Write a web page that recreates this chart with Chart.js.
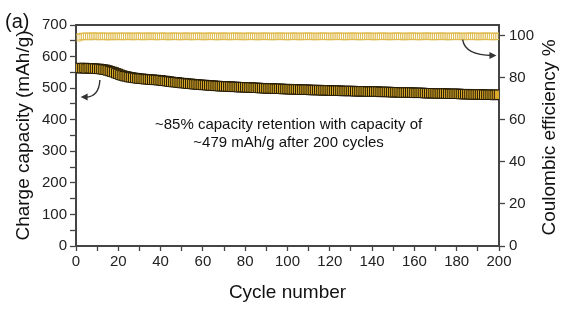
<!DOCTYPE html>
<html>
<head>
<meta charset="utf-8">
<script src="https://cdn.jsdelivr.net/npm/chart.js@4/dist/chart.umd.min.js"></script>
<style>
  html, body { margin: 0; padding: 0; background: #fff; }
  canvas { display: block; }
</style>
</head>
<body>
<canvas id="cycling" width="576" height="331"></canvas>
<script>
// cycle index
const cycles = [
  1,2,3,4,5,6,7,8,9,10,11,12,13,14,15,16,17,18,19,20,
  21,22,23,24,25,26,27,28,29,30,31,32,33,34,35,36,37,38,39,40,
  41,42,43,44,45,46,47,48,49,50,51,52,53,54,55,56,57,58,59,60,
  61,62,63,64,65,66,67,68,69,70,71,72,73,74,75,76,77,78,79,80,
  81,82,83,84,85,86,87,88,89,90,91,92,93,94,95,96,97,98,99,100,
  101,102,103,104,105,106,107,108,109,110,111,112,113,114,115,116,117,118,119,120,
  121,122,123,124,125,126,127,128,129,130,131,132,133,134,135,136,137,138,139,140,
  141,142,143,144,145,146,147,148,149,150,151,152,153,154,155,156,157,158,159,160,
  161,162,163,164,165,166,167,168,169,170,171,172,173,174,175,176,177,178,179,180,
  181,182,183,184,185,186,187,188,189,190,191,192,193,194,195,196,197,198,199,200
];

// charge capacity, mAh/g
const capacity = [
  563,564,563,564,562,563,563,562,562,561, 561,560,559,558,556,554,552,550,547,545,
  542,540,538,537,535,534,533,532,531,530, 530,529,528,528,527,527,526,526,525,525,
  523,523,522,521,520,519,519,518,517,516, 516,515,514,514,513,512,512,511,511,510,
  510,509,509,508,508,507,507,506,506,506, 505,505,505,504,504,504,503,503,503,503,
  502,502,502,501,501,501,500,500,500,499, 499,499,499,498,498,498,498,497,497,497,
  497,496,496,496,496,495,495,495,495,495, 494,494,494,494,494,493,493,493,493,493,
  492,492,492,492,492,491,491,491,491,491, 491,490,490,490,490,490,490,489,489,489,
  489,489,489,488,488,488,488,488,487,487, 487,487,487,486,486,486,486,486,486,485,
  485,485,485,485,484,484,484,484,484,484, 483,483,483,483,483,482,482,482,482,482,
  482,481,481,481,481,481,480,480,480,480, 480,480,479,479,479,479,479,478,479,479
];

// coulombic efficiency, %
const efficiency = [
  98.9,99.4,99.6,99.5,99.7,99.6,99.5,99.8,99.6,99.7, 99.5,99.6,99.7,99.6,99.4,99.6,99.7,99.5,99.6,99.6,
  99.7,99.5,99.6,99.6,99.7,99.6,99.5,99.6,99.7,99.6, 99.6,99.5,99.7,99.6,99.6,99.7,99.6,99.5,99.6,99.6,
  99.7,99.6,99.6,99.5,99.6,99.7,99.6,99.6,99.5,99.6, 99.6,99.7,99.6,99.6,99.5,99.6,99.7,99.6,99.6,99.6,
  99.5,99.6,99.7,99.6,99.6,99.6,99.5,99.6,99.7,99.6, 99.6,99.6,99.5,99.6,99.7,99.6,99.6,99.6,99.6,99.5,
  99.6,99.7,99.6,99.6,99.6,99.5,99.6,99.6,99.7,99.6, 99.6,99.6,99.5,99.6,99.6,99.7,99.6,99.6,99.6,99.5,
  99.6,99.6,99.7,99.6,99.6,99.5,99.6,99.6,99.6,99.7, 99.6,99.6,99.5,99.6,99.6,99.6,99.7,99.6,99.6,99.5,
  99.6,99.6,99.6,99.7,99.6,99.6,99.5,99.6,99.6,99.6, 99.7,99.6,99.6,99.5,99.6,99.6,99.6,99.7,99.6,99.6,
  99.5,99.6,99.6,99.6,99.7,99.6,99.6,99.5,99.6,99.6, 99.6,99.7,99.6,99.6,99.5,99.6,99.6,99.6,99.7,99.6,
  99.6,99.5,99.6,99.6,99.6,99.7,99.6,99.6,99.5,99.6, 99.6,99.6,99.7,99.6,99.6,99.5,99.6,99.6,99.6,99.7,
  99.6,99.6,99.5,99.6,99.6,99.6,99.7,99.6,99.6,99.5, 99.6,99.6,99.6,99.7,99.6,99.6,99.5,99.6,99.6,99.6
];

const xTicks = [0, 20, 40, 60, 80, 100, 120, 140, 160, 180, 200];
const capTicks = [0, 100, 200, 300, 400, 500, 600, 700];
const ceTicks = [0, 20, 40, 60, 80, 100];

const FONT = 'Arial, "Liberation Sans", sans-serif';
const AXIS = '#444';

const capPoints = cycles.map((c, i) => ({x: c, y: capacity[i]}));
const cePoints = cycles.map((c, i) => ({x: c, y: efficiency[i]}));

// text, arrows and right-hand title drawn on top of the chart
const decorations = {
    id: 'decorations',
    afterDatasetsDraw(chart) {
        const {ctx, chartArea, scales} = chart;
        const x = scales.x, y = scales.y, y1 = scales.y1;
        ctx.save();
        ctx.fillStyle = '#111';
        ctx.textAlign = 'center';
        ctx.textBaseline = 'middle';
        ctx.font = '15px ' + FONT;
        ctx.fillText('~85% capacity retention with capacity of', x.getPixelForValue(100.5), y.getPixelForValue(383));
        ctx.fillText('~479 mAh/g after 200 cycles', x.getPixelForValue(100.5), y.getPixelForValue(326));

        ctx.font = '20px ' + FONT;
        ctx.textAlign = 'left';
        ctx.fillText('(a)', 5, 22);

        // right axis title, reading bottom to top
        ctx.font = '19px ' + FONT;
        ctx.textAlign = 'center';
        ctx.translate(550, (chartArea.top + chartArea.bottom) / 2 + 2);
        ctx.rotate(-Math.PI / 2);
        ctx.fillText('Coulombic efficiency %', 0, 0);
        ctx.restore();

        const arrow = (sx, sy, cx, cy, ex, ey, ys, dir) => {
            const p0 = [x.getPixelForValue(sx), ys.getPixelForValue(sy)];
            const pc = [x.getPixelForValue(cx), ys.getPixelForValue(cy)];
            const p1 = [x.getPixelForValue(ex), ys.getPixelForValue(ey)];
            ctx.save();
            ctx.strokeStyle = '#333';
            ctx.fillStyle = '#333';
            ctx.lineWidth = 1.4;
            ctx.beginPath();
            ctx.moveTo(p0[0], p0[1]);
            ctx.quadraticCurveTo(pc[0], pc[1], p1[0] - dir * 4, p1[1]);
            ctx.stroke();
            ctx.beginPath();
            ctx.moveTo(p1[0], p1[1]);
            ctx.lineTo(p1[0] - dir * 7, p1[1] - 3.5);
            ctx.lineTo(p1[0] - dir * 7, p1[1] + 3.5);
            ctx.closePath();
            ctx.fill();
            ctx.restore();
        };
        arrow(11.3, 526, 10.8, 470, 2.2, 472, y, -1);
        arrow(182.8, 98, 184, 90.5, 198.8, 90.5, y1, 1);
    }
};

new Chart(document.getElementById('cycling'), {
    type: 'line',
    data: {
        datasets: [{
            label: 'Coulombic efficiency',
            data: cePoints,
            yAxisID: 'y1',
            showLine: false,
            pointStyle: 'rect',
            pointRadius: 4.6,
            pointBorderWidth: 1,
            pointBorderColor: 'rgba(222,184,72,0.75)',
            pointBackgroundColor: 'rgba(255,255,255,0)'
        }, {
            label: 'Charge capacity',
            data: capPoints,
            yAxisID: 'y',
            showLine: false,
            pointStyle: 'rect',
            pointRadius: 6.6,
            pointBorderWidth: 1,
            pointBorderColor: '#231a06',
            pointBackgroundColor: '#dcab2a'
        }]
    },
    options: {
        responsive: false,
        animation: false,
        events: [],
        layout: {padding: {left: 0, right: 0, top: 25, bottom: 23}},
        plugins: {legend: {display: false}, tooltip: {enabled: false}},
        scales: {
            x: {
                type: 'linear', min: 0, max: 200,
                afterBuildTicks: s => { s.ticks = []; for (let v = 0; v <= 200; v += 10) s.ticks.push({value: v}); },
                afterFit: s => { s.height = 62; },
                ticks: {
                    color: '#222', font: {family: FONT, size: 15}, padding: 2, maxRotation: 0, autoSkip: false,
                    callback: v => xTicks.includes(v) ? String(v) : ''
                },
                grid: {drawOnChartArea: false, tickLength: 5, tickColor: AXIS, tickWidth: 1.3},
                border: {color: AXIS, width: 2},
                title: {display: true, text: 'Cycle number', color: '#111', font: {family: FONT, size: 19}, padding: {top: 4, bottom: 4}}
            },
            x2: {
                type: 'linear', position: 'top', min: 0, max: 200,
                afterFit: s => { s.height = 0; },
                ticks: {display: false},
                grid: {drawOnChartArea: false, drawTicks: false},
                border: {color: AXIS, width: 2}
            },
            y: {
                type: 'linear', position: 'left', min: 0, max: 700,
                afterBuildTicks: s => { s.ticks = []; for (let v = 0; v <= 700; v += 50) s.ticks.push({value: v}); },
                afterFit: s => { s.width = 76; },
                ticks: {
                    color: '#222', font: {family: FONT, size: 15}, padding: 3, autoSkip: false,
                    callback: v => capTicks.includes(v) ? String(v) : ''
                },
                grid: {drawOnChartArea: false, tickLength: 6, tickColor: AXIS, tickWidth: 1.3},
                border: {color: AXIS, width: 2},
                title: {display: true, text: 'Charge capacity (mAh/g)', color: '#111', font: {family: FONT, size: 19}, padding: {top: 12, bottom: 0}}
            },
            y1: {
                type: 'linear', position: 'right', min: 0, max: 105,
                afterBuildTicks: s => { s.ticks = ceTicks.map(v => ({value: v})); },
                afterFit: s => { s.width = 77; },
                ticks: {color: '#222', font: {family: FONT, size: 15}, padding: 4, autoSkip: false},
                grid: {drawOnChartArea: false, tickLength: 6, tickColor: AXIS, tickWidth: 1.3},
                border: {color: AXIS, width: 2}
            }
        }
    },
    plugins: [decorations]
});
</script>
</body>
</html>
